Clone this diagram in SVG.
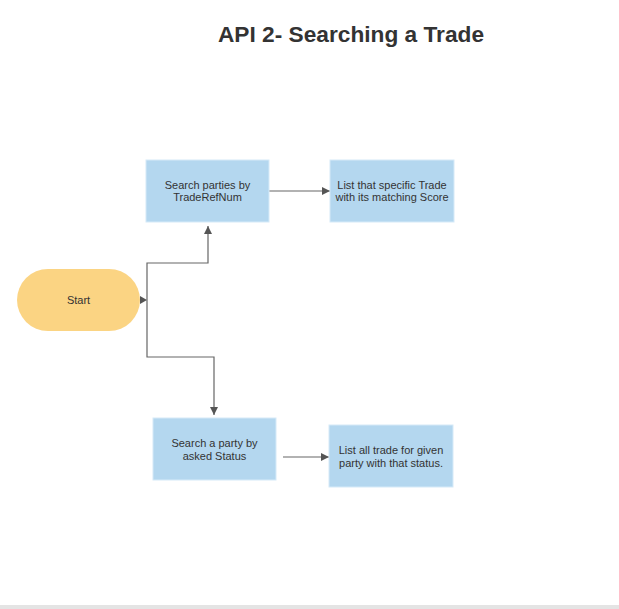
<svg xmlns="http://www.w3.org/2000/svg" width="619" height="609" viewBox="0 0 619 609">
<defs>
<marker id="ah" markerWidth="10" markerHeight="10" refX="8" refY="4" orient="auto" markerUnits="userSpaceOnUse">
<path d="M0,0 L8,4 L0,8 Z" fill="#555"/>
</marker>
<style>
.box{fill:#b4d7ef;stroke:#d6eaf8;stroke-width:1}
.lbl{font-family:"Liberation Sans",Arial,sans-serif;font-size:11px;fill:#333;text-anchor:middle}
.con{fill:none;stroke:#666;stroke-width:1.2}
</style>
</defs>
<rect width="619" height="609" fill="#fff"/>
<rect x="0" y="605" width="619" height="4" fill="#e4e4e4"/>
<text x="351" y="42" font-family="'Liberation Sans',Arial,sans-serif" font-size="22.7" font-weight="bold" fill="#333" text-anchor="middle">API 2- Searching a Trade</text>
<g id="connectors">
<path class="con" d="M147,300 L147,263 L208,263 L208,226" marker-end="url(#ah)"/>
<path class="con" d="M147,300 L147,357 L214,357 L214,415" marker-end="url(#ah)"/>
<path class="con" d="M269,191 L330,191" marker-end="url(#ah)"/>
<path class="con" d="M283,457 L329,457" marker-end="url(#ah)"/>
<path d="M140,296 L147,300 L140,304 Z" fill="#555"/>
</g>
<g id="start">
<rect x="17" y="269" width="123" height="62" rx="31" ry="31" fill="#fbd483"/>
<text class="lbl" x="78.5" y="304">Start</text>
</g>
<g id="search-refnum">
<rect class="box" x="146" y="160" width="123" height="62"/>
<text class="lbl" x="207.5" y="189">Search parties by</text>
<text class="lbl" x="207.5" y="201">TradeRefNum</text>
</g>
<g id="list-trade">
<rect class="box" x="330" y="160" width="124" height="62"/>
<text class="lbl" x="392" y="189">List that specific Trade</text>
<text class="lbl" x="392" y="201">with its matching Score</text>
</g>
<g id="search-status">
<rect class="box" x="153" y="418" width="123" height="62"/>
<text class="lbl" x="214.5" y="447">Search a party by</text>
<text class="lbl" x="214.5" y="460">asked Status</text>
</g>
<g id="list-all">
<rect class="box" x="329" y="425" width="124" height="62"/>
<text class="lbl" x="391" y="454">List all trade for given</text>
<text class="lbl" x="391" y="467">party with that status.</text>
</g>
</svg>
